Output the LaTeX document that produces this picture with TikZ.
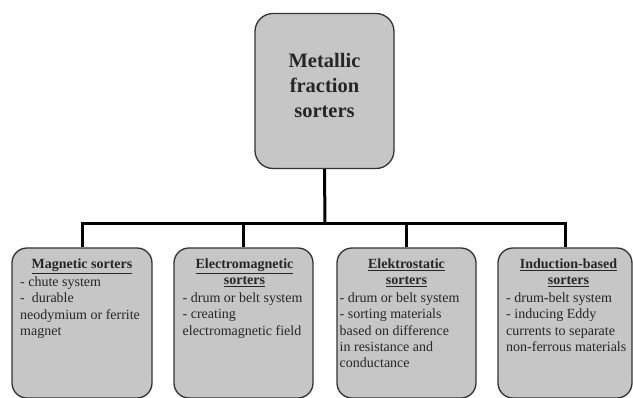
\documentclass[tikz,border=0pt]{standalone}
\usepackage{fontspec}
\setmainfont{Liberation Serif}
\begin{document}
\begin{tikzpicture}[x=1pt,y=-1pt,
  sorter/.style={draw=black!80,line width=1.3pt,fill=boxgray,rounded corners=15pt,
     minimum width=#1,minimum height=150pt,inner sep=0pt},
  sorter/.default=140pt,
  topbox/.style={draw=black!80,line width=1.3pt,fill=boxgray,rounded corners=18pt,
     minimum width=139pt,minimum height=155pt,inner sep=0pt},
  link/.style={line width=3pt,black,line join=miter},
  head/.style={font=\fontsize{14}{16.3}\selectfont\bfseries,align=center,inner sep=0pt,anchor=north,text=black!85},
  body/.style={font=\fontsize{14}{16.3}\selectfont,align=left,inner sep=0pt,anchor=north west,text=black!85},
  title/.style={font=\fontsize{20.5}{25}\selectfont\bfseries,align=center,inner sep=0pt,text=black!85}
]
\definecolor{boxgray}{RGB}{198,198,198}
\useasboundingbox (0,0) rectangle (633,398);
\clip (0,0) rectangle (633,398);

\node[topbox] (top) at (324.5,91) {};
\node[title] (toptext) at (324.5,85) {Metallic\\fraction\\sorters};

\node[sorter] (b1) at (82,323) {};
\node[sorter=139pt] (b2) at (243.5,323) {};
\node[sorter=139pt] (b3) at (406.5,323) {};
\node[sorter=134pt] (b4) at (565,323) {};

\coordinate (j) at (325,224);
\draw[link] (top.south) -- (j);
\draw[link] (j) -| (b1.north);
\draw[link] (j) -| (b2.north);
\draw[link] (j) -| (b3.north);
\draw[link] (j) -| (b4.north);

% box 1
\node[head] (h1) at (82,258.5) {\underline{Magnetic sorters}};
\node[body] (t1) at (20,276.5) {- chute system\\-\ \ durable\\neodymium or ferrite\\magnet};
% box 2
\node[head] (h2) at (244.5,258.5) {\underline{Electromagnetic}\\\underline{sorters}};
\node[body] (t2) at (182.5,292.5) {- drum or belt system\\- creating\\electromagnetic field};
% box 3
\node[head] (h3) at (406.5,258.5) {\underline{Elektrostatic}\\\underline{sorters}};
\node[body] (t3) at (339.5,292.5) {- drum or belt system\\- sorting materials\\based on difference\\in resistance and\\conductance};
% box 4
\node[head] (h4) at (568.5,258.5) {\underline{Induction-based}\\\underline{sorters}};
\node[body] (t4) at (506,292.5) {- drum-belt system\\- inducing Eddy\\currents to separate\\non-ferrous materials};
\end{tikzpicture}
\end{document}
